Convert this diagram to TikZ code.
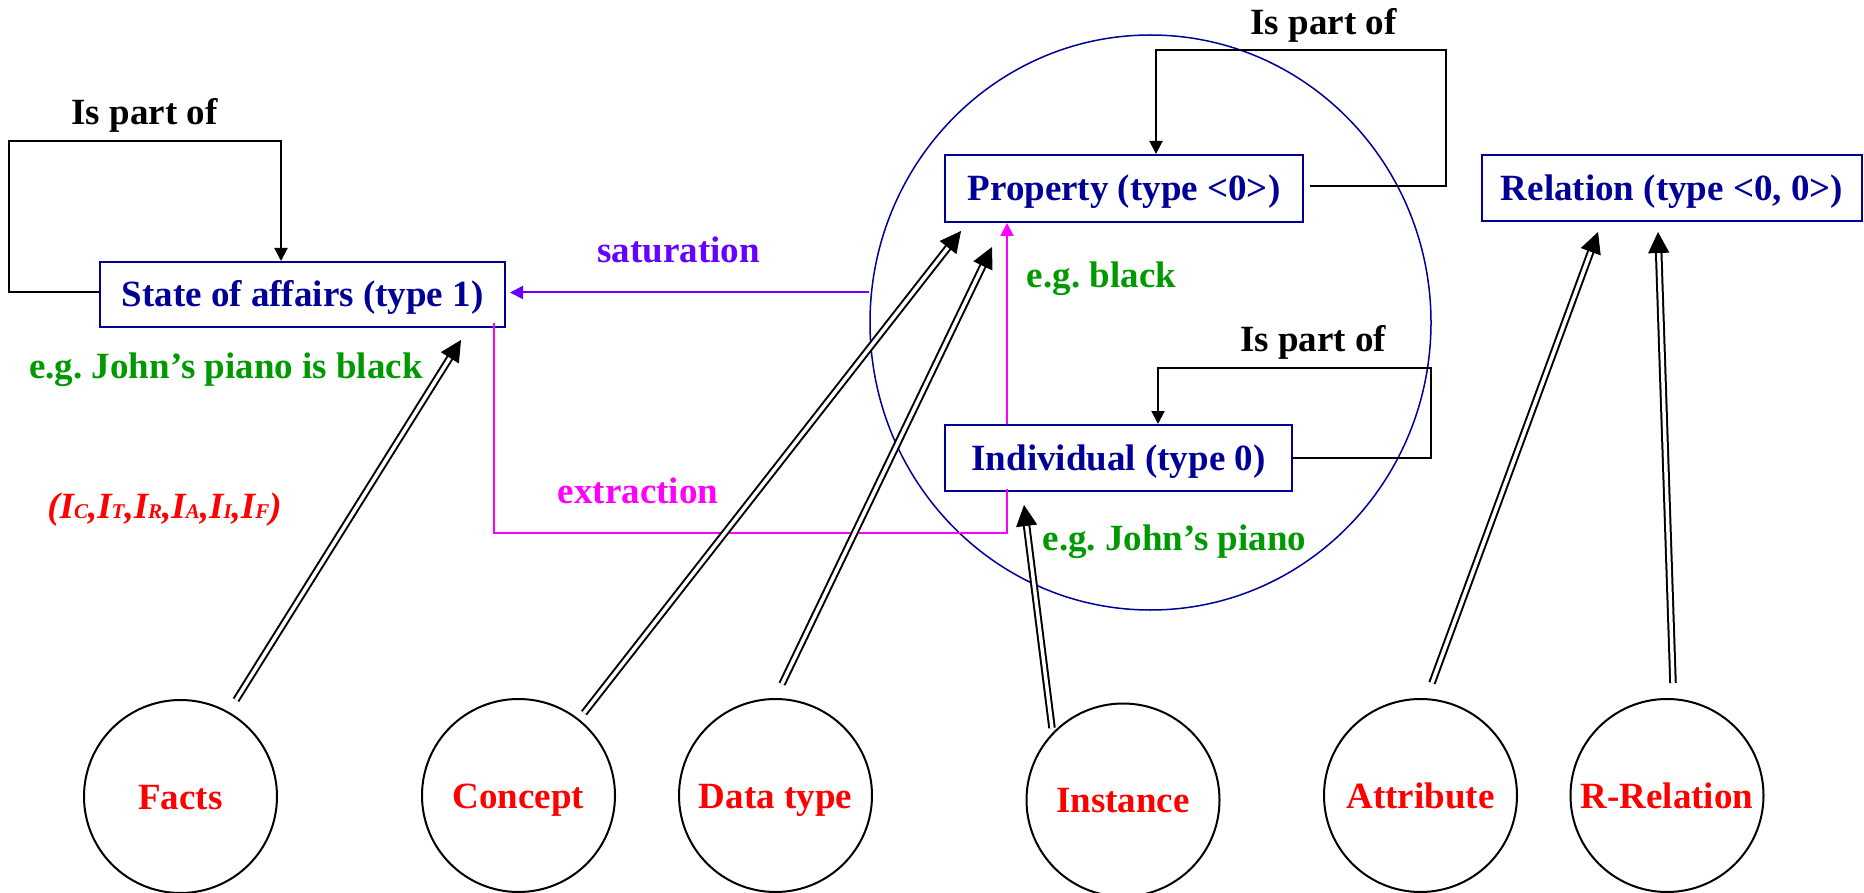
\documentclass[tikz,border=0pt]{standalone}
\usepackage{fontspec}
\setmainfont{Liberation Serif}
\usetikzlibrary{arrows.meta,shapes.geometric,calc}

\definecolor{typeblue}{RGB}{0,0,153}
\definecolor{examplegreen}{RGB}{0,153,0}
\definecolor{componentred}{RGB}{255,0,0}
\definecolor{satviolet}{RGB}{102,0,255}
\definecolor{extmagenta}{RGB}{255,0,255}

% small capital letter used as an index of I
\newcommand{\subcap}[1]{{\fontsize{21}{21}\selectfont #1}}

\begin{document}
\begin{tikzpicture}[x=1pt, y=-1pt,
  every node/.style={font=\fontsize{37}{40}\selectfont\bfseries},
  typebox/.style={draw=typeblue, line width=2pt, fill=white, text=typeblue,
    inner sep=0pt, text height=34pt, text depth=9pt},
  comp/.style={circle, draw=black, line width=2pt, inner sep=0pt,
    minimum size=193pt, text=componentred, text height=34pt, text depth=9pt},
  eg/.style={text=examplegreen, anchor=base, inner sep=0pt},
  lbl/.style={anchor=base, inner sep=0pt},
  loopline/.style={draw=black, line width=2pt, -{Triangle[length=13pt,width=13pt]}},
  satline/.style={draw=satviolet, line width=2pt, -{Triangle[length=13pt,width=13pt]}},
  extline/.style={draw=extmagenta, line width=2pt},
  shaft/.style={draw=black, double=white, double distance=3.5pt, line width=2pt},
  shafttip/.style={draw=black, fill=black, line width=1pt, -{Triangle[length=21pt,width=21pt]}}
]
\useasboundingbox (0,0) rectangle (1864,893);
\fill[white] (0,0) rectangle (1864,893);

% domain of individuals and properties
\node[draw=typeblue, line width=1.5pt, ellipse, inner sep=0pt,
  minimum width=561pt, minimum height=575pt] (domain) at (1150.5,322.5) {};

% semantic types
\node[typebox, minimum width=405pt, minimum height=65pt] (state) at (302.5,294.5) {State of affairs (type 1)};
\node[typebox, minimum width=358pt, minimum height=67pt] (prop) at (1124,188.5) {Property (type <0>)};
\node[typebox, minimum width=347pt, minimum height=66pt] (ind) at (1118.5,458) {Individual (type 0)};
\node[typebox, minimum width=380pt, minimum height=66pt] (rel) at (1672,188) {Relation (type <0, 0>)};

% ontology components
\node[comp] (facts)    at (180.5,796.5) {Facts};
\node[comp] (concept)  at (518.5,795.5) {Concept};
\node[comp] (datatype) at (775.5,795.5) {Data type};
\node[comp] (instance) at (1123,800)    {Instance};
\node[comp] (attr)     at (1420.5,795.5) {Attribute};
\node[comp] (rrel)     at (1667,795.5)  {R-Relation};

% examples and labels
\node[eg] (egstate) at (226,378) {e.g.\ John's piano is black};
\node[eg] (egprop)  at (1101.5,288) {e.g.\ black};
\node[eg] (egind)   at (1174.5,550) {e.g.\ John's piano};
\node[lbl, text=satviolet] (satlbl) at (678.5,263) {saturation};
\node[lbl, text=extmagenta] (extlbl) at (638,503) {extraction};
\node[lbl] (partstate) at (144.5,125) {Is part of};
\node[lbl] (partprop)  at (1323.5,35) {Is part of};
\node[lbl] (partind)   at (1313,352) {Is part of};
\node[lbl, text=componentred, font=\fontsize{37}{40}\selectfont\bfseries\itshape] (facets) at (164.5,518)
  {(I\subcap{C},I\subcap{T},I\subcap{R},I\subcap{A},I\subcap{I},I\subcap{F})};

% "is part of" loops
\coordinate (lpA) at (9,141);    \coordinate (lpB) at (281,141);
\coordinate (ppB) at (1446,50);  \coordinate (ppA) at (1156,50);
\coordinate (ipB) at (1431,368); \coordinate (ipA) at (1158,368);
\draw[loopline] ([yshift=2pt]state.west) -| (lpA) -- (lpB) -- (lpB |- state.north);
\draw[loopline] ([xshift=6pt,yshift=2pt]prop.east) -| (ppB) -- (ppA) -- (ppA |- prop.north);
\draw[loopline] (ind.east) -| (ipB) -- (ipA) -- (ipA |- ind.north);

% saturation and extraction
\draw[satline, shorten >=4pt] ([yshift=2pt]state.east -| domain.west) -- ([yshift=2pt]state.east);
\coordinate (exLow) at (1007,533);
\draw[extline] ([xshift=-12pt,yshift=5pt]state.south east) |- (exLow) -- ([yshift=3pt]ind.south -| exLow);
\draw[extline, -{Triangle[length=13pt,width=13pt]}] (ind.north -| exLow) -- (prop.south -| exLow);

% mappings from ontology components to semantic types
\coordinate (fS) at (236,700);  \coordinate (fT) at (461,340);
\coordinate (cS) at (584,713);  \coordinate (cT) at (961,231);
\coordinate (dS) at (782,684);  \coordinate (dT) at (992,247);
\coordinate (iS) at (1052,728); \coordinate (iT) at (1024,505);
\coordinate (aS) at (1432,683); \coordinate (aT) at (1598,232);
\coordinate (rS) at (1673,683); \coordinate (rT) at (1658,232);
\foreach \s/\t in {fS/fT,cS/cT,dS/dT,iS/iT,aS/aT,rS/rT}{
  \draw[shaft] (\s) -- ($(\t)!19pt!(\s)$);
  \draw[shafttip] ($(\t)!21pt!(\s)$) -- (\t);
}
\end{tikzpicture}
\end{document}
